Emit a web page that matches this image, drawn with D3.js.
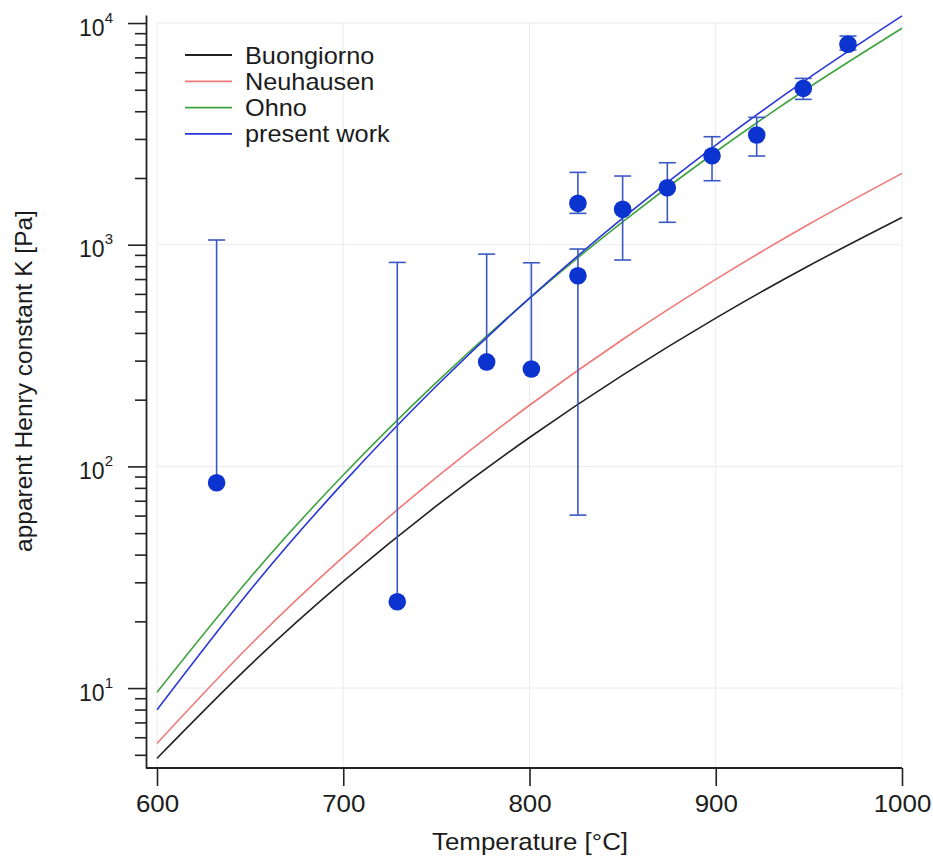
<!DOCTYPE html>
<html>
<head>
<meta charset="utf-8">
<script src="https://cdn.jsdelivr.net/npm/d3@7"></script>
<style>
  html, body { margin: 0; padding: 0; background: #fff; }
  svg { display: block; font-family: "Liberation Sans", Arial, sans-serif; }
</style>
</head>
<body>
<svg id="chart" width="933" height="856"></svg>
<script>
// ---------- data ----------
const curveTemps = [600, 650, 700, 750, 800, 850, 900, 950, 1000];
const buongiorno = [4.82, 12.69, 30.26, 66.3, 135.0, 257.9, 466.5, 803.9, 1327];
const neuhausen  = [5.63, 15.64, 39.07, 89.24, 188.7, 373.6, 697.3, 1237, 2098];
const ohno       = [9.58, 31.47, 91.45, 239.4, 573.0, 1269, 2626, 5120, 9471];
const presentFit = [7.98, 27.64, 84.26, 230.4, 573.8, 1317, 2816, 5658, 10770];

const seriesNames  = ["Buongiorno", "Neuhausen", "Ohno", "present work"];
const seriesColors = ["#222222", "#f07878", "#3ea33e", "#2a36d8"];

const tempPts = [632, 729, 777, 801, 826, 826, 850, 874, 898, 922, 947, 971];
const kPts    = [84.4, 24.5, 296, 275, 1537, 724, 1444, 1808, 2521, 3125, 5072, 8016];
const kHi     = [1050, 832, 907, 829, 2120, 956, 2041, 2343, 3070, 3754, 5628, 8736];
const kLo     = [null, null, null, null, 1385, 60.3, 853, 1262, 1944, 2512, 4525, 7555];

const xTickValues = [600, 700, 800, 900, 1000];
const yMajorValues = [10, 100, 1000, 10000];
const yExponents = ["1", "2", "3", "4"];

// ---------- layout ----------
const svg = d3.select("#chart");
const axisX0 = 146, axisY0 = 768;
const x = d3.scaleLinear().domain([600, 1000]).range([157, 902]);
const y = d3.scaleLog().domain([4.36, 10870]).range([768, 15]);
const stretch = 1.08;
const textColor = "#1c1c1c";

const yMinor = [];
[1, 10, 100, 1000].forEach(d => {
  for (let m = 2; m <= 9; m++) {
    const v = d * m;
    if (v >= y.domain()[0] && v <= y.domain()[1]) yMinor.push(v);
  }
});

// grid
const grid = svg.append("g").attr("stroke", "#eaecf3").attr("stroke-width", 1);
grid.selectAll(".gx").data(xTickValues).join("line")
  .attr("x1", d => x(d)).attr("x2", d => x(d))
  .attr("y1", y(10000)).attr("y2", axisY0);
grid.selectAll(".gy").data(yMajorValues).join("line")
  .attr("x1", x(600)).attr("x2", x(1000))
  .attr("y1", d => y(d)).attr("y2", d => y(d));

// curves
const seriesData = [buongiorno, neuhausen, ohno, presentFit];
const line = d3.line().x(d => x(d[0])).y(d => y(d[1])).curve(d3.curveNatural);
svg.append("g").selectAll("path").data(seriesData).join("path")
  .attr("d", s => line(curveTemps.map((t, i) => [t, s[i]])))
  .attr("fill", "none")
  .attr("stroke", (s, i) => seriesColors[i])
  .attr("stroke-width", 1.6);

// error bars
const eb = svg.append("g").attr("stroke", "#3a58c4").attr("stroke-width", 1.6);
const capW = 8.5;
tempPts.forEach((t, i) => {
  const top = kHi[i];
  const bot = kLo[i] == null ? kPts[i] : kLo[i];
  eb.append("line").attr("x1", x(t)).attr("x2", x(t)).attr("y1", y(top)).attr("y2", y(bot));
  eb.append("line").attr("x1", x(t) - capW).attr("x2", x(t) + capW).attr("y1", y(top)).attr("y2", y(top));
  if (kLo[i] != null) {
    eb.append("line").attr("x1", x(t) - capW).attr("x2", x(t) + capW).attr("y1", y(kLo[i])).attr("y2", y(kLo[i]));
  }
});

// markers
svg.append("g").selectAll("circle").data(tempPts).join("circle")
  .attr("cx", d => x(d)).attr("cy", (d, i) => y(kPts[i]))
  .attr("r", 8.8).attr("fill", "#0b33cf");

// axes
const xAxis = d3.axisBottom(x).tickValues(xTickValues).tickFormat(d3.format("d"))
  .tickSize(18).tickSizeOuter(0).tickPadding(9);
const gx = svg.append("g").attr("transform", `translate(0,${axisY0})`).call(xAxis);
gx.select(".domain").remove();
gx.selectAll("line").attr("stroke", "#222").attr("stroke-width", 1.6);
gx.selectAll("text").attr("font-size", 24).attr("fill", textColor)
  .attr("font-family", "Liberation Sans, Arial, sans-serif")
  .attr("transform", function() {
    const d = d3.select(this.parentNode).datum();
    return `translate(${-(stretch - 1) * 0},0)`;
  })
  .style("transform-box", "fill-box").style("transform-origin", "center")
  .style("transform", `scaleX(${stretch})`);
svg.append("line").attr("x1", axisX0).attr("x2", x(1000)).attr("y1", axisY0).attr("y2", axisY0)
  .attr("stroke", "#222").attr("stroke-width", 1.8);

const yMinorAxis = d3.axisLeft(y).tickValues(yMinor).tickSize(11).tickSizeOuter(0).tickFormat(() => "");
const gym = svg.append("g").attr("transform", `translate(${axisX0},0)`).call(yMinorAxis);
gym.select(".domain").remove();
gym.selectAll("line").attr("stroke", "#222").attr("stroke-width", 1.6);

const yMajorAxis = d3.axisLeft(y).tickValues(yMajorValues).tickSize(18).tickSizeOuter(0).tickFormat(() => "");
const gy = svg.append("g").attr("transform", `translate(${axisX0},0)`).call(yMajorAxis);
gy.select(".domain").attr("stroke", "#222").attr("stroke-width", 1.8);
gy.selectAll("line").attr("stroke", "#222").attr("stroke-width", 1.6);
gy.selectAll(".tick").each(function(d) {
  const t = d3.select(this).append("text")
    .attr("x", -33).attr("y", 12).attr("text-anchor", "end")
    .attr("fill", textColor).attr("font-size", 23)
    .attr("font-family", "Liberation Sans, Arial, sans-serif");
  t.append("tspan").text("10");
  t.append("tspan").attr("dy", -13).attr("font-size", 15).text(yExponents[yMajorValues.indexOf(d)]);
});

// axis titles
svg.append("text").attr("transform", `translate(530,850) scale(${stretch},1)`).attr("text-anchor", "middle")
  .attr("font-size", 24).attr("fill", textColor).text("Temperature [°C]");
svg.append("text").attr("transform", "translate(32,381) rotate(-90)").attr("text-anchor", "middle")
  .attr("font-size", 24.5).attr("fill", textColor).text("apparent Henry constant K [Pa]");

// legend
const lg = svg.append("g");
seriesNames.forEach((name, i) => {
  const cy = 55 + i * 26.3;
  lg.append("line").attr("x1", 185).attr("x2", 232).attr("y1", cy).attr("y2", cy)
    .attr("stroke", seriesColors[i]).attr("stroke-width", 1.8);
  lg.append("text").attr("transform", `translate(245,${cy + 8.5}) scale(1.1,1)`).attr("font-size", 23)
    .attr("fill", textColor).text(name);
});
</script>
</body>
</html>
